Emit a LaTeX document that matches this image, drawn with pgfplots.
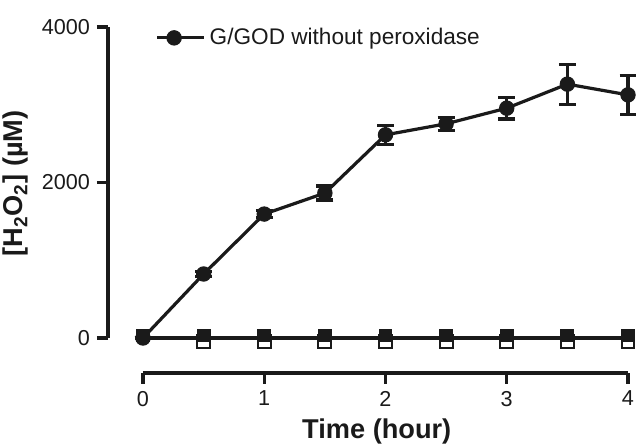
\documentclass[border=0pt]{standalone}
\usepackage{fontspec}
\setmainfont{Liberation Sans}
\usepackage{pgfplots}
\pgfplotsset{compat=1.18}
\definecolor{ink}{HTML}{1A1A1A}
\begin{document}
\begin{tikzpicture}
\begin{axis}[
  scale only axis,
  width=242.5pt, height=155.5pt,
  xmin=0, xmax=4, ymin=0, ymax=4000,
  axis x line*=bottom, axis y line*=left,
  axis x line shift=17.5pt, axis y line shift=17.5pt,
  xtick={0,1,2,3,4}, ytick={0,2000,4000},
  tick align=outside,
  major tick length=5.5pt,
  every tick/.style={ink, line width=1.6pt},
  axis line style={ink, line width=1.6pt},
  /pgf/number format/assume math mode=true,
  /pgf/number format/set thousands separator={},
  ticklabel style={font=\fontsize{10.8}{12}\selectfont, text=ink},
  xlabel={Time (hour)},
  ylabel={[H\textsubscript{2}O\textsubscript{2}] (µM)},
  every axis x label/.style={at={(axis description cs:0.482,-0.302)}, anchor=center},
  every axis y label/.style={at={(axis description cs:-0.262,0.497)}, anchor=center, rotate=90},
  label style={font=\fontsize{13.6}{15}\selectfont\bfseries, text=ink, inner sep=0pt},
  clip=false,
  legend style={draw=none, fill=none, at={(0.025,0.965)}, anchor=west, inner sep=0pt,
    font=\fontsize{11.3}{13}\selectfont, text=ink},
  legend cell align=left,
  legend image code/.code={
    \draw[mark repeat=2, mark phase=2] plot coordinates {(0pt,0pt) (8.5pt,0pt) (23.5pt,0pt)};
  },
]
\addplot[forget plot, only marks, mark=square, mark size=3.2pt, mark options={ink, fill=white, line width=1pt}]
  coordinates {(0.5,-45) (1,-45) (1.5,-45) (2,-45) (2.5,-45) (3,-45) (3.5,-45) (4,-45)};
\addplot[forget plot, ink, line width=1.6pt, mark=square*, mark size=3.2pt, mark options={yshift=1.2pt, line width=0.5pt}]
  coordinates {(0,0) (0.5,0) (1,0) (1.5,0) (2,0) (2.5,0) (3,0) (3.5,0) (4,0)};
\addplot[ink, line width=1.6pt, mark=*, mark size=3.6pt, mark options={line width=0.5pt},
  error bars/.cd, y dir=both, y explicit,
  error bar style={line width=1.6pt},
  error mark options={rotate=90, mark size=4.2pt, line width=1.6pt}]
  coordinates {(0,0) +- (0,0) (0.5,823) +- (0,30) (1,1594) +- (0,45) (1.5,1864) +- (0,90)
    (2,2613) +- (0,120) (2.5,2755) +- (0,85) (3,2956) +- (0,140) (3.5,3265) +- (0,257) (4,3127) +- (0,250)};
\addlegendentry{G/GOD without peroxidase}
\end{axis}
\pgfresetboundingbox
\path[use as bounding box] (-71.5pt,-55pt) rectangle (246.5pt,169pt);
\end{tikzpicture}
\end{document}
